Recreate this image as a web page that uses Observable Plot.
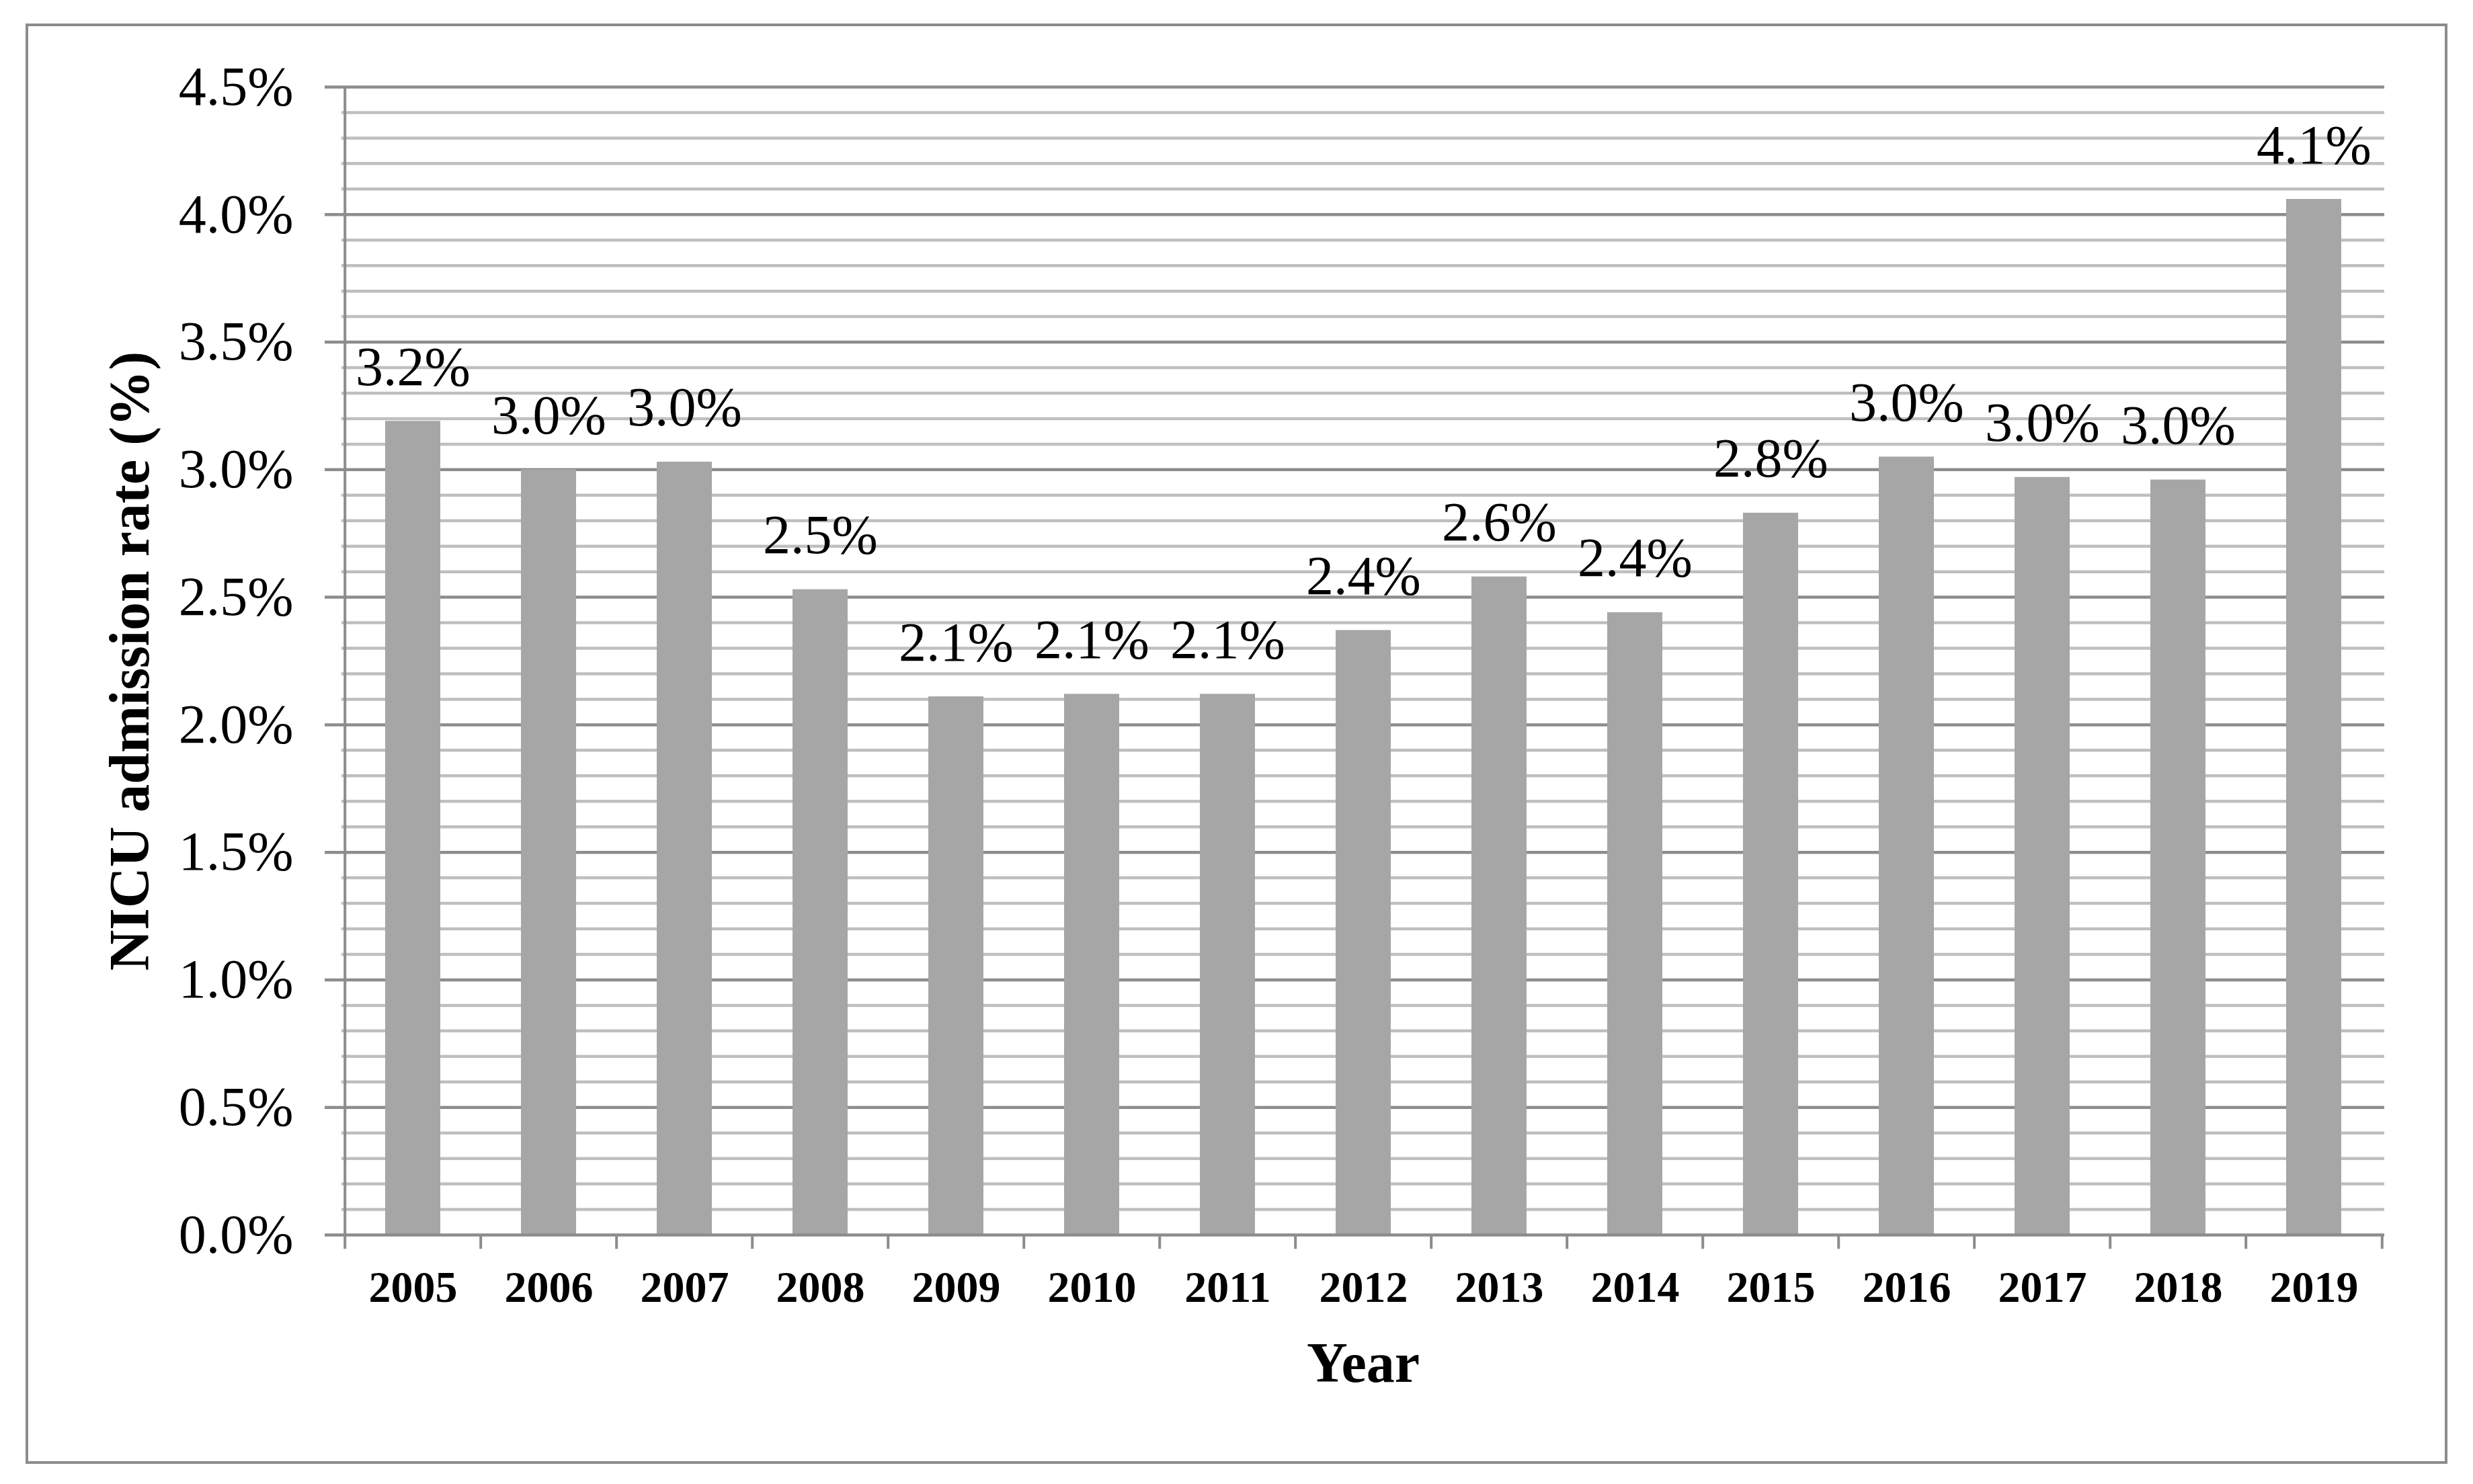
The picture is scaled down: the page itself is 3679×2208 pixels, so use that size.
<!DOCTYPE html>
<html>
<head>
<meta charset="utf-8">
<script src="https://cdn.jsdelivr.net/npm/d3@7"></script>
<script src="https://cdn.jsdelivr.net/npm/@observablehq/plot@0.6"></script>
<style>
html, body { margin: 0; padding: 0; background: #ffffff; }
#wrap { position: relative; width: 3679px; height: 2208px; overflow: hidden; }
#border { position: absolute; left: 38px; top: 35px; width: 3603px; height: 2143px; border: 4px solid #8c8c8c; box-sizing: border-box; }
#chart { position: absolute; left: 0; top: 0; }
</style>
</head>
<body>
<div id="wrap"><div id="border"></div><div id="chart"></div></div>
<script>
// ---- data ----
const years = ["2005", "2006", "2007", "2008", "2009", "2010", "2011", "2012", "2013", "2014", "2015", "2016", "2017", "2018", "2019"];
const rates = [3.19, 3.00, 3.03, 2.53, 2.11, 2.12, 2.12, 2.37, 2.58, 2.44, 2.83, 3.05, 2.97, 2.96, 4.06];
const majorTicks = [0, 0.5, 1.0, 1.5, 2.0, 2.5, 3.0, 3.5, 4.0, 4.5];
const minorTicks = d3.range(1, 46).map(i => i / 10).filter(t => Math.round(t * 10) % 5 !== 0);
const yTitle = "NICU admission rate (%)";
const xTitle = "Year";

const data = years.map((year, i) => ({year, rate: rates[i], label: rates[i].toFixed(1) + "%"}));

// ---- layout ----
const W = 3679, H = 2208;
const ML = 508, MR = 132, MT = 129, MB = 371;
const step = (W - ML - MR) / years.length;
const major = "#8c8c8c", minor = "#bfbfbf";

const chart = Plot.plot({
  width: W,
  height: H,
  marginLeft: ML,
  marginRight: MR,
  marginTop: MT,
  marginBottom: MB,
  style: {fontFamily: "'Liberation Serif', 'Times New Roman', serif", color: "#000", background: "transparent", overflow: "visible"},
  x: {domain: years, padding: 0, axis: null, label: null},
  y: {domain: [0, 4.5], axis: null, label: null},
  marks: [
    Plot.ruleY(minorTicks, {stroke: minor, strokeWidth: 4.5}),
    Plot.ruleY(majorTicks.filter(t => t > 0), {stroke: major, strokeWidth: 4.5, insetLeft: -25}),
    Plot.barY(data, {x: "year", y: "rate", fill: "#a6a6a6", insetLeft: 60, insetRight: 60}),
    Plot.ruleY([0], {stroke: major, strokeWidth: 4.5, insetLeft: -25}),
    Plot.ruleX([years[0]], {dx: -step / 2, y1: 0, y2: 4.5, stroke: major, strokeWidth: 4}),
    Plot.ruleX(years, {dx: -step / 2, y1: 0, y2: 0, insetBottom: -21, stroke: major, strokeWidth: 4}),
    Plot.ruleX([years[years.length - 1]], {dx: step / 2, y1: 0, y2: 0, insetBottom: -21, stroke: major, strokeWidth: 4}),
    Plot.axisY(majorTicks, {tickSize: 0, tickPadding: 72, tickFormat: d => d.toFixed(1) + "%", fontSize: 82, label: null, fill: "#000"}),
    Plot.axisX({tickSize: 0, tickPadding: 53, fontSize: 66, fontWeight: "bold", label: null, fill: "#000"}),
    Plot.text(data, {x: "year", y: "rate", text: "label", dy: -54, lineAnchor: "bottom", fontSize: 82, fill: "#000"}),
    Plot.text([yTitle], {frameAnchor: "left", textAnchor: "middle", dx: -314, rotate: -90, fontSize: 84, fontWeight: "bold", fill: "#000"}),
    Plot.text([xTitle], {frameAnchor: "bottom", textAnchor: "middle", dy: 218, lineAnchor: "bottom", fontSize: 84, fontWeight: "bold", fill: "#000"})
  ]
});
document.getElementById("chart").appendChild(chart);
</script>
</body>
</html>
